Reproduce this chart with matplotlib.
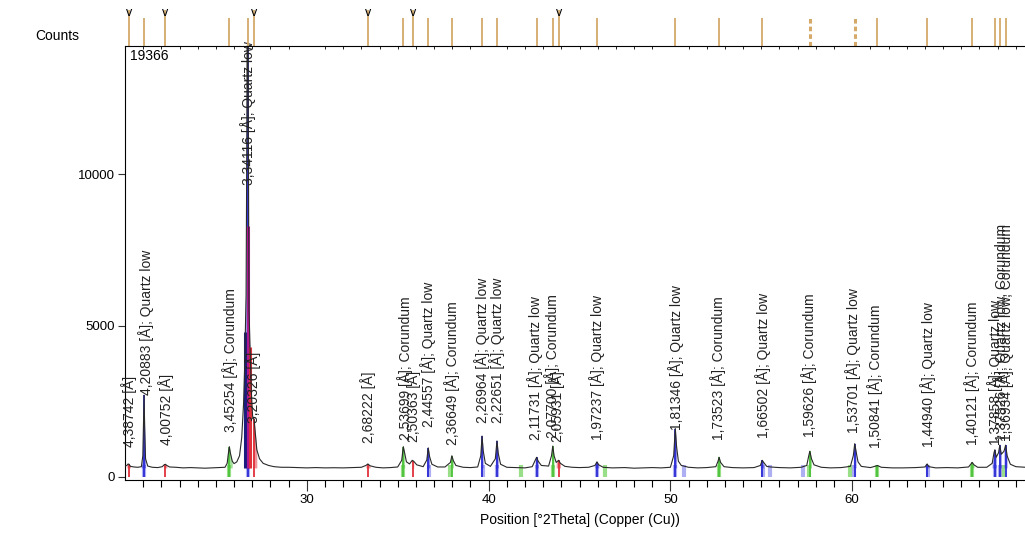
import numpy as np
import matplotlib
matplotlib.use("Agg")
import matplotlib.pyplot as plt

plt.rcParams['font.family'] = ['Liberation Sans', 'DejaVu Sans']

scan_points = [
    (20.00, 360), (20.10, 380), (20.17, 430), (20.22, 420), (20.30, 350), (20.50, 330),
    (20.70, 320), (20.90, 340), (20.98, 700), (21.02, 1900), (21.05, 2700), (21.08, 1700),
    (21.13, 600), (21.25, 360), (21.50, 320), (21.80, 310), (22.05, 340), (22.15, 400),
    (22.22, 420), (22.30, 380), (22.45, 330), (22.80, 320), (23.20, 300), (23.60, 310),
    (24.00, 300), (24.40, 290), (24.80, 300), (25.20, 310), (25.50, 320), (25.62, 450),
    (25.68, 750), (25.74, 1000), (25.80, 780), (25.90, 520), (26.00, 440), (26.15, 500),
    (26.30, 700), (26.42, 1300), (26.52, 2400), (26.58, 3600), (26.62, 4800), (26.66, 6000),
    (26.70, 11000), (26.74, 19366), (26.78, 12000), (26.82, 5500), (26.88, 4300), (26.95, 2800),
    (27.02, 2000), (27.10, 1900), (27.16, 1500), (27.25, 900), (27.40, 600), (27.60, 450),
    (27.90, 380), (28.20, 340), (28.60, 320), (29.00, 320), (29.50, 310), (30.00, 300),
    (30.50, 310), (31.00, 300), (31.50, 305), (32.00, 300), (32.50, 310), (33.00, 320),
    (33.25, 380), (33.36, 430), (33.48, 370), (33.80, 320), (34.20, 300), (34.60, 310),
    (35.00, 330), (35.22, 550), (35.31, 1000), (35.38, 800), (35.48, 500), (35.65, 430),
    (35.80, 550), (35.88, 520), (36.05, 400), (36.40, 340), (36.60, 560), (36.68, 960),
    (36.75, 680), (36.88, 420), (37.20, 330), (37.60, 330), (37.90, 480), (37.98, 700),
    (38.06, 540), (38.20, 380), (38.60, 320), (39.00, 310), (39.40, 330), (39.57, 700),
    (39.64, 1350), (39.70, 880), (39.82, 450), (40.10, 350), (40.37, 600), (40.46, 1190),
    (40.53, 780), (40.66, 420), (41.00, 320), (41.50, 310), (42.00, 300), (42.40, 340),
    (42.56, 550), (42.64, 650), (42.73, 520), (42.90, 380), (43.30, 360), (43.46, 700),
    (43.53, 1020), (43.60, 700), (43.72, 480), (43.85, 550), (43.95, 450), (44.20, 350),
    (44.60, 320), (45.00, 310), (45.50, 320), (45.85, 380), (45.96, 500), (46.06, 400),
    (46.30, 320), (46.80, 300), (47.50, 310), (48.00, 290), (48.50, 300), (49.00, 310),
    (49.50, 300), (50.00, 320), (50.18, 700), (50.27, 1600), (50.34, 1000), (50.44, 520),
    (50.60, 380), (51.00, 320), (51.50, 300), (52.00, 310), (52.50, 340), (52.62, 520),
    (52.68, 650), (52.76, 480), (52.95, 340), (53.40, 310), (54.00, 300), (54.60, 310),
    (54.95, 380), (55.05, 550), (55.13, 480), (55.30, 350), (55.50, 330), (56.00, 310),
    (56.60, 300), (57.20, 320), (57.50, 380), (57.61, 700), (57.67, 850), (57.76, 600),
    (57.90, 400), (58.30, 320), (58.80, 300), (59.40, 310), (59.90, 350), (60.06, 700),
    (60.14, 1100), (60.21, 850), (60.32, 500), (60.50, 350), (61.00, 310), (61.30, 360),
    (61.38, 380), (61.60, 320), (62.20, 300), (62.80, 300), (63.50, 310), (64.00, 330),
    (64.12, 430), (64.22, 340), (64.60, 300), (65.20, 310), (65.80, 300), (66.40, 330),
    (66.60, 480), (66.70, 400), (66.90, 320), (67.40, 320), (67.70, 450), (67.80, 800),
    (67.85, 900), (67.92, 650), (68.05, 800), (68.12, 1050), (68.20, 750), (68.35, 850),
    (68.44, 1050), (68.52, 700), (68.70, 420), (69.00, 340), (69.50, 320), (70.00, 310),
]
scan_2theta = np.array([p[0] for p in scan_points])
scan_counts = np.array([p[1] for p in scan_points])

# === peak list ===
peak_2theta = [20.20, 21.05, 22.22, 25.74, 26.74, 27.12, 33.36, 35.31, 35.84, 36.68,
               37.98, 39.64, 40.46, 42.64, 43.53, 43.87, 45.96, 50.27, 52.68, 55.05,
               57.67, 60.14, 61.35, 64.12, 66.60, 67.85, 68.12, 68.44]
peak_d = ["4,38742", "4,20883", "4,00752", "3,45254", "3,34116", "3,20326", "2,68222",
          "2,53699", "2,50363", "2,44557", "2,36649", "2,26964", "2,22651", "2,11731",
          "2,07700", "2,05931", "1,97237", "1,81346", "1,73523", "1,66502", "1,59626",
          "1,53701", "1,50841", "1,44940", "1,40121", "1,37858", "1,37526", "1,36934"]
peak_phase = ["", "Quartz low", "", "Corundum", "Quartz low", "", "", "Corundum", "",
              "Quartz low", "Corundum", "Quartz low", "Quartz low", "Quartz low",
              "Corundum", "", "Quartz low", "Quartz low", "Corundum", "Quartz low",
              "Corundum", "Quartz low", "Corundum", "Quartz low", "Corundum",
              "Quartz low", "Quartz low, Corundum", "Quartz low, Corundum"]
label_2theta = [20.22, 21.15, 22.24, 25.80, 26.76, 27.06, 33.38, 35.38, 35.84, 36.68,
                37.99, 39.63, 40.46, 42.55, 43.49, 43.77, 45.96, 50.31, 52.62, 55.09,
                57.62, 60.04, 61.25, 64.17, 66.59, 67.86, 68.19, 68.46]
label_bottom = [990, 2706, 1056, 1485, 9636, 1782, 1122, 1221, 1155, 1650,
                1056, 1782, 1782, 1221, 1287, 1155, 1221, 1551, 1221, 1287,
                1320, 1452, 957, 990, 1056, 1056, 1200, 1200]
marked_peaks = [20.20, 22.22, 27.12, 33.36, 35.84, 43.87]
dashed_peaks = [57.67, 60.14]

# extra fitted components under the big quartz peak
comp_2theta = [26.62, 26.76, 26.88]
comp_counts = [4800, 8300, 4300]
comp_colors = ["#1c1c80", "#b01890", "#e0303a"]

# reference sticks at the bottom
corundum_sticks = [25.70, 35.30, 37.90, 41.80, 43.55, 46.40, 52.70, 57.60, 59.90, 61.35, 66.60, 68.30]
quartz_sticks = [21.05, 26.77, 36.72, 39.70, 40.47, 42.66, 45.97, 50.27, 50.77, 55.07,
                 55.50, 57.30, 60.10, 64.15, 67.85, 68.15]

phase_colors = {"Quartz low": "#2b2bd6", "Corundum": "#4cc23a", "": "#e0303a",
                "Quartz low, Corundum": "#2b2bd6"}

fig = plt.figure(figsize=(10.25, 5.35), dpi=100)
x0 = 125 / 1025
x1 = 1034 / 1025
ax = fig.add_axes([x0, 1 - 480 / 535, x1 - x0, (480 - 46) / 535])
ax_top = fig.add_axes([x0, 1 - 46 / 535, x1 - x0, 38 / 535], sharex=ax)

# reference sticks
ax.vlines(corundum_sticks, 0, 380, colors="#7fd86a", lw=3, alpha=0.8, zorder=1)
ax.vlines(quartz_sticks, 0, 380, colors="#9a9af0", lw=3, alpha=0.8, zorder=1)

# coloured peak areas
for pos, ph in zip(peak_2theta, peak_phase):
    m = (scan_2theta >= pos - 0.16) & (scan_2theta <= pos + 0.16)
    ax.fill_between(scan_2theta[m], 300, scan_counts[m], color=phase_colors[ph],
                    alpha=0.5, lw=0, zorder=2)
    ax.vlines(pos, 0, scan_counts[np.argmin(abs(scan_2theta - pos))],
              colors=phase_colors[ph], lw=1.3, zorder=3)
ax.vlines(comp_2theta, 300, comp_counts, colors=comp_colors, lw=2.2, zorder=3)

ax.plot(scan_2theta, scan_counts, color="#2a2a2a", lw=0.8, zorder=4)

for x, yb, d, ph in zip(label_2theta, label_bottom, peak_d, peak_phase):
    txt = d + " [Å]" + ("; " + ph if ph else "")
    ax.text(x, yb, txt, rotation=90, ha="center", va="bottom", fontsize=10,
            color="#222222", zorder=5)

ax.set_xlim(20, 70)
ax.set_ylim(-100, 14230)
ax.set_yticks([0, 5000, 10000])
ax.set_xticks([30, 40, 50, 60])
ax.set_xticks(np.arange(21, 70, 1), minor=True)
ax.tick_params(axis="both", direction="out", labelsize=9.5, length=5, width=0.8,
               color="#333333", pad=2)
ax.tick_params(axis="x", which="minor", direction="out", length=5, width=0.8)
ax.tick_params(axis="x", which="major", length=8, pad=2)
for s in ["right", "top"]:
    ax.spines[s].set_visible(False)
ax.set_xlabel("Position [°2Theta] (Copper (Cu))", fontsize=10, labelpad=5)
ax.text(0.006, 0.992, "19366", transform=ax.transAxes, ha="left", va="top", fontsize=10)

# top strip with peak positions
ax_top.set_ylim(0, 1)
for pos in peak_2theta:
    dashed = pos in dashed_peaks
    top = 0.95 if pos in marked_peaks else 0.74
    ax_top.vlines(pos, 0, top, colors="#d4a96a", lw=2.2 if dashed else 1.3,
                  linestyles=(0, (1.5, 1)) if dashed else "solid")
    if pos in marked_peaks:
        ax_top.text(pos, 0.72, "v", ha="center", va="bottom", fontsize=9)
for s in ["right", "top", "left"]:
    ax_top.spines[s].set_visible(False)
ax_top.tick_params(left=False, bottom=False, labelleft=False, labelbottom=False)
ax_top.patch.set_alpha(0)

fig.text(57 / 1025, 1 - 36 / 535, "Counts", ha="center", va="center", fontsize=10)

fig.savefig("out.png", dpi=100)
